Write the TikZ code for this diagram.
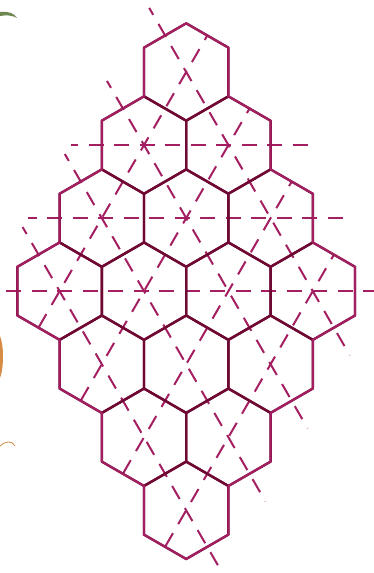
\documentclass[tikz,border=0pt]{standalone}
\usetikzlibrary{calc}
\definecolor{hexlight}{RGB}{163,31,98}
\definecolor{hexdark}{RGB}{112,8,52}
\definecolor{leafgreen}{RGB}{110,135,80}
\definecolor{peel}{RGB}{215,140,70}
\begin{document}
\begin{tikzpicture}[x=1pt,y=-1pt,
  innerhex/.style={draw=hexdark,line width=2.4pt,line join=round},
  outline/.style={draw=hexlight,line width=2.1pt,line join=miter},
  axisline/.style={draw=hexlight,line width=2pt,dash pattern=on 15pt off 10.5pt}]
\fill[white] (0,0) rectangle (373,573);
\useasboundingbox (0,0) rectangle (373,573);
% stray background bits at the left border
\fill[leafgreen] (0,12) .. controls (8,11) and (14,13) .. (17,18) .. controls (12,15) and (6,15) .. (0,16) -- cycle;
\fill[peel] (0,336) .. controls (4,345) and (4,368) .. (0,378) -- cycle;
\draw[peel,line width=0.8pt] (0,446) .. controls (5,441) and (12,440) .. (15,446);
% hexagon centres
\foreach \a in {0,...,3}{\foreach \b in {0,...,3}{
  \coordinate (h\a\b) at ({186.2+(\a-\b)*42.2},{72+(\a+\b)*73.05});
}}
% dashed axes: down-right lines
\foreach \b in {0,...,3}{
  \draw[axisline,dash phase=7pt] ($(h0\b)+(-37,-64.1)$) -- ($(h3\b)+(37,64.1)$);
}
% dashed axes: down-left lines
\foreach \a in {0,...,3}{
  \draw[axisline,dash phase=9pt] ($(h\a0)+(21.5,-37.2)$) -- ($(h\a3)+(-21.5,37.2)$);
}
% dashed axes: horizontal lines
\draw[axisline,dash phase=8pt] ($(h01)+(-73,0)$) -- ($(h10)+(84.6,0)$);
\draw[axisline,dash phase=6pt] ($(h02)+(-74,0)$) -- ($(h20)+(74.4,0)$);
\draw[axisline] ($(h03)+(-53.6,0)$) -- ($(h30)+(62,0)$);
% hexagons
\foreach \a in {0,...,3}{\foreach \b in {0,...,3}{
  \draw[innerhex] (h\a\b) ++(0,-48.7) -- ++(42.2,24.35) -- ++(0,48.7) -- ++(-42.2,24.35) -- ++(-42.2,-24.35) -- ++(0,-48.7) -- cycle;
}}
% outer outline in the lighter colour
\draw[outline] (144,47.65) -- (186.2,23.3) -- (228.4,47.65) -- (228.4,96.35) -- (270.6,120.7) -- (270.6,169.4) -- (312.8,193.75) -- (312.8,242.45) -- (355,266.8) -- (355,315.5) -- (312.8,339.85) -- (312.8,388.55) -- (270.6,412.9) -- (270.6,461.6) -- (228.4,485.95) -- (228.4,534.65) -- (186.2,559) -- (144,534.65) -- (144,485.95) -- (101.8,461.6) -- (101.8,412.9) -- (59.6,388.55) -- (59.6,339.85) -- (17.4,315.5) -- (17.4,266.8) -- (59.6,242.45) -- (59.6,193.75) -- (101.8,169.4) -- (101.8,120.7) -- (144,96.35) -- cycle;
\end{tikzpicture}
\end{document}
